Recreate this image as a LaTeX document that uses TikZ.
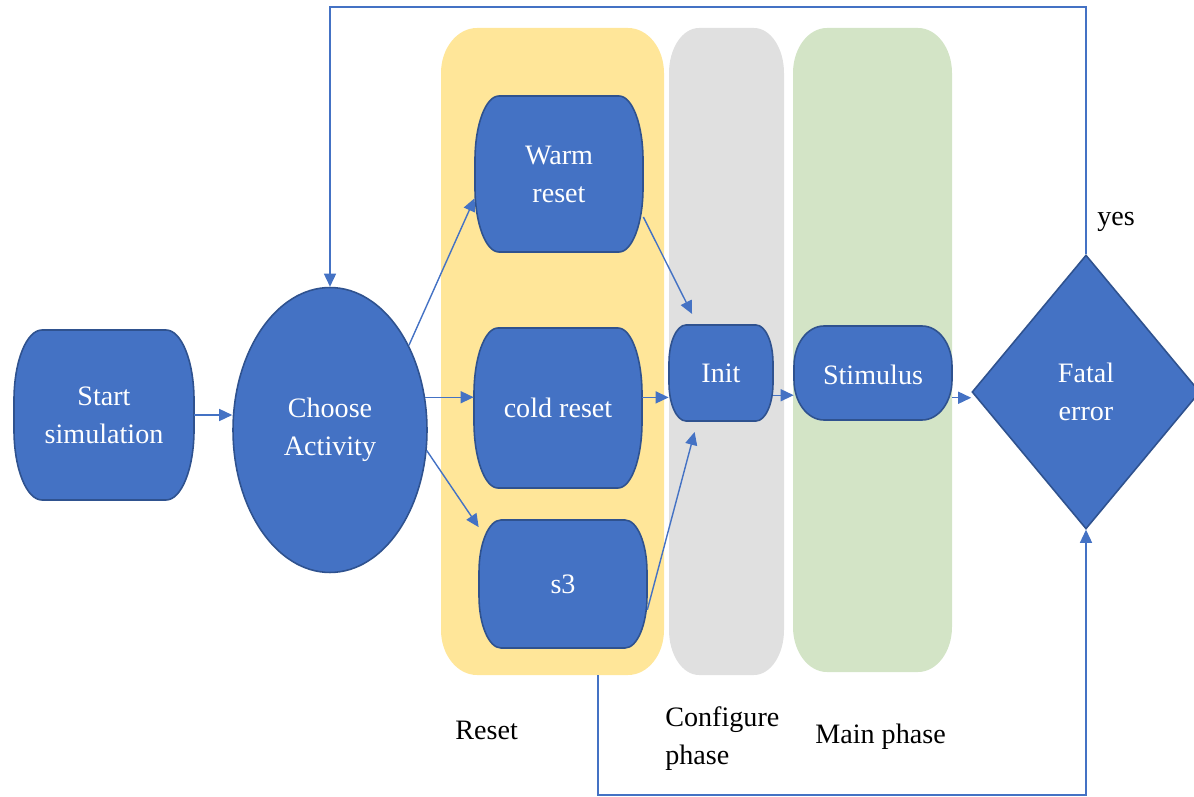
\documentclass[tikz,border=0pt]{standalone}
\usepackage{fontspec}
\setmainfont{Liberation Serif}
\usetikzlibrary{arrows.meta,shapes.geometric}

\definecolor{blockblue}{HTML}{4472C4}
\definecolor{blockedge}{HTML}{2F528F}
\definecolor{linkblue}{HTML}{4472C4}
\definecolor{resetbg}{HTML}{FFE699}
\definecolor{configbg}{HTML}{E0E0E0}
\definecolor{mainbg}{HTML}{D3E4C6}

% Box with elliptic corners: style, cx, cy, half width, half height, corner rx, corner ry
\newcommand\cornerbox[7]{%
  \path[#1] ({#2-#4+#6},{#3-#5}) -- ({#2+#4-#6},{#3-#5})
    .. controls ({#2+#4-0.448*#6},{#3-#5}) and ({#2+#4},{#3-#5+0.448*#7}) .. ({#2+#4},{#3-#5+#7})
    -- ({#2+#4},{#3+#5-#7})
    .. controls ({#2+#4},{#3+#5-0.448*#7}) and ({#2+#4-0.448*#6},{#3+#5}) .. ({#2+#4-#6},{#3+#5})
    -- ({#2-#4+#6},{#3+#5})
    .. controls ({#2-#4+0.448*#6},{#3+#5}) and ({#2-#4},{#3+#5-0.448*#7}) .. ({#2-#4},{#3+#5-#7})
    -- ({#2-#4},{#3-#5+#7})
    .. controls ({#2-#4},{#3-#5+0.448*#7}) and ({#2-#4+0.448*#6},{#3-#5}) .. cycle;}

\tikzset{
  block/.style={fill=blockblue, draw=blockedge, line width=0.9pt},
  blocktext/.style={text=white, align=center, inner sep=0pt,
    font=\fontsize{16}{21.6}\selectfont},
  plaintext/.style={text=black, align=left, inner sep=0pt,
    font=\fontsize{16}{21.6}\selectfont},
  link/.style={draw=linkblue, line width=0.8pt},
  arrowlink/.style={link, -{Triangle[length=0.26cm,width=0.24cm]}},
}

\begin{document}
\begin{tikzpicture}[x=0.02cm,y=-0.02cm]
\useasboundingbox (0,0) rectangle (1194,797);
\clip (0,0) rectangle (1194,797);

% phase panels
\cornerbox{fill=resetbg}{552.5}{351.5}{111.5}{323.5}{36}{45}
\cornerbox{fill=configbg}{726.5}{351.5}{57.5}{323.5}{30}{45}
\cornerbox{fill=mainbg}{872.5}{350}{79.5}{322}{34}{45}
\node[inner sep=0pt, minimum width=4.46cm, minimum height=12.94cm] (resetpanel) at (552.5,351.5) {};

% panel captions
\node[plaintext, anchor=west] (resetlbl) at (455,730) {Reset};
\node[plaintext, anchor=west] (configlbl) at (665,739) {Configure\\phase};
\node[plaintext, anchor=west] (mainlbl) at (815,737) {Main phase};

% flow blocks
\cornerbox{block}{104}{415}{90}{85}{28}{70}
\node[blocktext, minimum width=3.6cm, minimum height=3.4cm] (start) at (104,415) {Start\\simulation};

\node[ellipse, block, blocktext, minimum width=3.88cm, minimum height=5.7cm] (choose) at (330,430) {Choose\\Activity};

\cornerbox{block}{559}{174}{84}{78}{24}{64}
\node[blocktext, minimum width=3.36cm, minimum height=3.12cm] (warm) at (559,174) {Warm\\reset};

\cornerbox{block}{558}{408}{84}{80}{24}{66}
\node[blocktext, minimum width=3.36cm, minimum height=3.2cm] (cold) at (558,408) {cold reset};

\cornerbox{block}{563}{584}{84}{64}{22}{52}
\node[blocktext, minimum width=3.36cm, minimum height=2.56cm] (s3) at (563,584) {s3};

\cornerbox{block}{721}{373}{52}{48}{17}{38}
\node[blocktext, minimum width=2.08cm, minimum height=1.92cm] (init) at (721,373) {Init};

\cornerbox{block}{873}{373}{79}{47}{30}{40}
\node[blocktext, minimum width=3.16cm, minimum height=1.88cm] (stim) at (873,375) {Stimulus};

\node[diamond, block, blocktext, minimum width=4.56cm, minimum height=5.48cm] (fatal) at (1086,392) {Fatal\\error};

\node[plaintext, anchor=west] (yeslbl) at (1097,222) {yes};

% connectors
\draw[arrowlink] (start.east) -- (start.east -| choose.west);
\draw[arrowlink] (choose.47) -- (warm.196);
\draw[arrowlink] (choose.19) -- (choose.19 -| cold.west);
\draw[arrowlink] (choose.-12) -- (s3.146);
\draw[arrowlink, shorten >=0.24cm] (warm.-27) -- (init.116);
\draw[arrowlink] (init.205 -| cold.east) -- (init.205);
\draw[arrowlink, shorten >=0.22cm] (s3.-17) -- (init.-116);
\draw[arrowlink] (init.-23) -- (init.-23 -| stim.west);
\draw[arrowlink] (stim.-16) -- (stim.-16 -| fatal.west);

% loop back on a fatal error
\coordinate (topleft) at (330,7);
\draw[arrowlink] (fatal.north) |- (topleft) -- (choose.north);

% loop from the reset phase into the error check
\coordinate (botleft) at (598,795);
\draw[arrowlink] (resetpanel.south -| botleft) -- (botleft) -| (fatal.south);
\end{tikzpicture}
\end{document}
